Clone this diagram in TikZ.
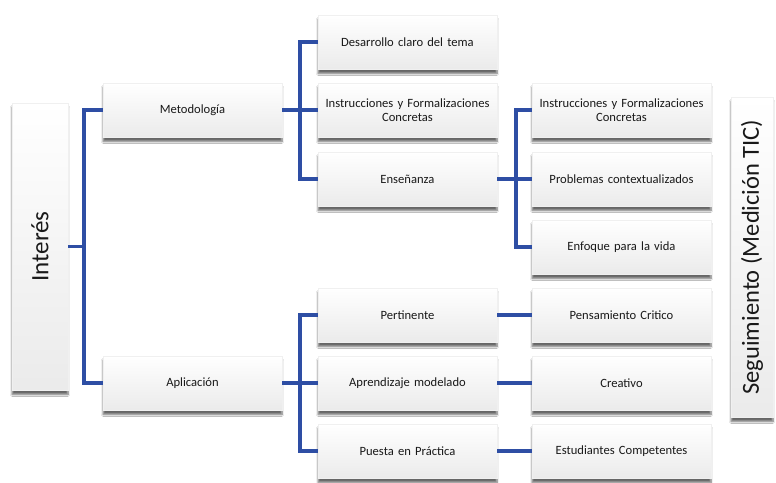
\documentclass[tikz,border=0pt]{standalone}
\usepackage{fontspec}
\setmainfont{Carlito}
\usetikzlibrary{shadows.blur}
\definecolor{linkblue}{RGB}{46,78,164}
\definecolor{txt}{RGB}{25,25,25}
\tikzset{
  box/.style={draw=gray!12, line width=0.3pt, shading=axis, top color=white, bottom color=gray!16,
    minimum width=179pt, minimum height=54pt, inner sep=1pt, align=center, text width=177pt,
    font=\fontsize{12.6}{14.5}\selectfont, text=txt,
    blur shadow={shadow xshift=0pt, shadow yshift=-4.5pt, shadow blur steps=6, shadow opacity=60}},
  bigbox/.style={box, text width=, font=\fontsize{24}{26}\selectfont},
  link/.style={draw=linkblue, line width=3.4pt}
}
\begin{document}
\begin{tikzpicture}[x=1pt,y=-1pt]
\useasboundingbox[fill=white] (0,0) rectangle (776,482);
% first level
\node[bigbox, minimum width=56pt, minimum height=287pt] (int) at (40,246.5) {};
\node[rotate=90, font=\fontsize{25}{27}\selectfont, text=txt] (intt) at (int.center) {Interés};
\node[box] (met) at (192.5,110) {Metodología};
\node[box] (apl) at (192.5,383) {Aplicación};
% second level
\node[box] (des) at (407.5,42) {Desarrollo claro del tema};
\node[box] (ins) at (407.5,110) {Instrucciones y Formalizaciones\\Concretas};
\node[box] (ens) at (407.5,179) {Enseñanza};
\node[box] (per) at (407.5,315) {Pertinente};
\node[box] (apr) at (407.5,383) {Aprendizaje modelado};
\node[box] (pue) at (407.5,451) {Puesta en Práctica};
% third level
\node[box] (ins2) at (621.5,110) {Instrucciones y Formalizaciones\\Concretas};
\node[box] (pro) at (621.5,179) {Problemas contextualizados};
\node[box] (enf) at (621.5,247) {Enfoque para la vida};
\node[box] (pen) at (621.5,315) {Pensamiento Critico};
\node[box] (cre) at (621.5,383) {Creativo};
\node[box] (est) at (621.5,451) {Estudiantes Competentes};
% side box
\node[bigbox, minimum width=42pt, minimum height=320pt] (seg) at (752,257) {};
\node[rotate=90, font=\fontsize{24.5}{26}\selectfont, text=txt] (segt) at (seg.center) {Seguimiento (Medición TIC)};
% junction coordinates
\coordinate (j1) at (84,246.5);
\coordinate (j2) at (300,110);
\coordinate (j3) at (300,383);
\coordinate (j4) at (516,179);
% connectors
\draw[link] (int.east) -- (j1);
\draw[link] (met.west) -| (j1) |- (apl.west);
\draw[link] (met.east) -- (j2);
\draw[link] (des.west) -| (j2) |- (ens.west);
\draw[link] (j2) -- (ins.west);
\draw[link] (apl.east) -- (j3);
\draw[link] (per.west) -| (j3) |- (pue.west);
\draw[link] (j3) -- (apr.west);
\draw[link] (ens.east) -- (j4);
\draw[link] (ins2.west) -| (j4) |- (enf.west);
\draw[link] (j4) -- (pro.west);
\draw[link] (per.east) -- (pen.west);
\draw[link] (apr.east) -- (cre.west);
\draw[link] (pue.east) -- (est.west);
\end{tikzpicture}
\end{document}
